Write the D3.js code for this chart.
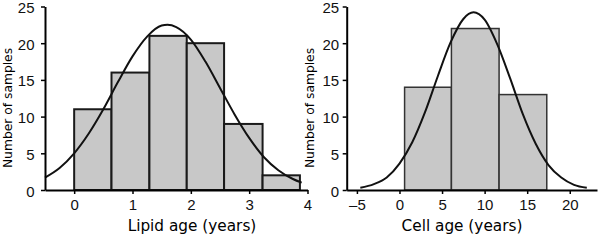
<!DOCTYPE html>
<html>
<head>
<meta charset="utf-8">
<script src="https://cdn.jsdelivr.net/npm/d3@7"></script>
<style>
  html, body { margin: 0; padding: 0; background: #fff; }
  svg { display: block; font-family: "DejaVu Sans", sans-serif; }
  .axis path, .axis line { stroke: #000; }
  .axis path { stroke-width: 2; }
  .axis line { stroke-width: 1.5; }
  .axis text { fill: #111; }
</style>
</head>
<body>
<svg id="chart" width="600" height="243"></svg>
<script>
// lipid age histogram (left panel)
const lipidEdges = [0, 0.64, 1.29, 1.93, 2.57, 3.23, 3.87];
const lipidCounts = [11, 16, 21, 20, 9, 2];
const lipidCurveX = [-0.5, -0.25, 0, 0.25, 0.5, 0.75, 1, 1.25, 1.5, 1.6, 1.75, 2, 2.25, 2.5, 2.75, 3, 3.25, 3.5, 3.75, 3.9];
const lipidCurveY = [1.7, 3.0, 5.0, 7.7, 11.0, 14.7, 18.2, 20.9, 22.4, 22.5, 22.2, 20.5, 17.5, 13.9, 10.3, 7.1, 4.5, 2.7, 1.5, 1.0];
const lipidTicks = [0, 1, 2, 3, 4];

// cell age histogram (right panel)
const cellEdges = [0.6, 6.1, 11.7, 17.3];
const cellCounts = [14, 22, 13];
const cellCurveX = [-4.6, -3, -1.5, 0, 1.5, 3, 4.5, 6, 7.5, 8.7, 10, 11.5, 13, 14.5, 16, 17.5, 19, 20.5, 22];
const cellCurveY = [0.3, 0.8, 1.7, 3.6, 6.5, 10.6, 15.5, 20.1, 23.3, 24.2, 23.2, 19.8, 15.2, 10.3, 6.3, 3.4, 1.7, 0.7, 0.3];
const cellTicks = [-5, 0, 5, 10, 15, 20];

const yTicks = [0, 5, 10, 15, 20, 25];

const svg = d3.select('#chart');

function drawPanel(opts) {
    const x = d3.scaleLinear().domain(opts.xDomain).range(opts.xRange);
    const y = d3.scaleLinear().domain([0, 25]).range(opts.yRange);
    const g = svg.append('g');

    // bars
    const bins = opts.counts.map((c, i) => ({x0: opts.edges[i], x1: opts.edges[i + 1], n: c}));
    g.selectAll('rect')
        .data(bins)
        .join('rect')
        .attr('x', d => x(d.x0))
        .attr('y', d => y(d.n))
        .attr('width', d => x(d.x1) - x(d.x0))
        .attr('height', d => y(0) - y(d.n))
        .attr('fill', '#c8c8c8')
        .attr('stroke', opts.barStroke)
        .attr('stroke-width', opts.barStrokeWidth);

    // fitted curve
    const pts = opts.curveX.map((v, i) => [v, opts.curveY[i]]);
    g.append('path')
        .datum(pts)
        .attr('fill', 'none')
        .attr('stroke', '#111')
        .attr('stroke-width', 2)
        .attr('d', d3.line()
            .x(d => x(d[0]))
            .y(d => y(d[1]))
            .curve(d3.curveMonotoneX));

    // axes
    g.append('g')
        .attr('class', 'axis')
        .attr('transform', `translate(0,${y(0)})`)
        .call(d3.axisBottom(x)
            .tickValues(opts.xTicks)
            .tickFormat(d => d < 0 ? '\u2013' + Math.abs(d) : d)
            .tickSize(4)
            .tickSizeOuter(0)
            .tickPadding(5))
        .selectAll('text')
        .attr('font-size', 15);

    g.append('g')
        .attr('class', 'axis')
        .attr('transform', `translate(${opts.xRange[0]},0)`)
        .call(d3.axisLeft(y)
            .tickValues(yTicks)
            .tickSize(4)
            .tickSizeOuter(0)
            .tickPadding(opts.yPad))
        .selectAll('text')
        .attr('dy', '0.4em')
        .attr('font-size', 15);

    // titles
    g.append('text')
        .attr('x', opts.titleX)
        .attr('y', 231)
        .attr('text-anchor', 'middle')
        .attr('font-size', 15.3)
        .text(opts.title);

    g.append('text')
        .attr('transform', `translate(${opts.yTitleX},108) rotate(-90)`)
        .attr('text-anchor', 'middle')
        .attr('font-size', 12.3)
        .text('Number of samples');
}

drawPanel({
    edges: lipidEdges, counts: lipidCounts,
    curveX: lipidCurveX, curveY: lipidCurveY,
    xTicks: lipidTicks,
    xDomain: [-0.5, 4], xRange: [45, 307.5], yRange: [190, 6.5],
    barStroke: '#1a1a1a', barStrokeWidth: 2, yPad: 6.5,
    title: 'Lipid age (years)', titleX: 192, yTitleX: 12
});

drawPanel({
    edges: cellEdges, counts: cellCounts,
    curveX: cellCurveX, curveY: cellCurveY,
    xTicks: cellTicks,
    xDomain: [-6.2, 23.2], xRange: [346.7, 597], yRange: [190, 6.5],
    barStroke: '#333', barStrokeWidth: 1.5, yPad: 3.5,
    title: 'Cell age (years)', titleX: 462, yTitleX: 314
});
</script>
</body>
</html>
